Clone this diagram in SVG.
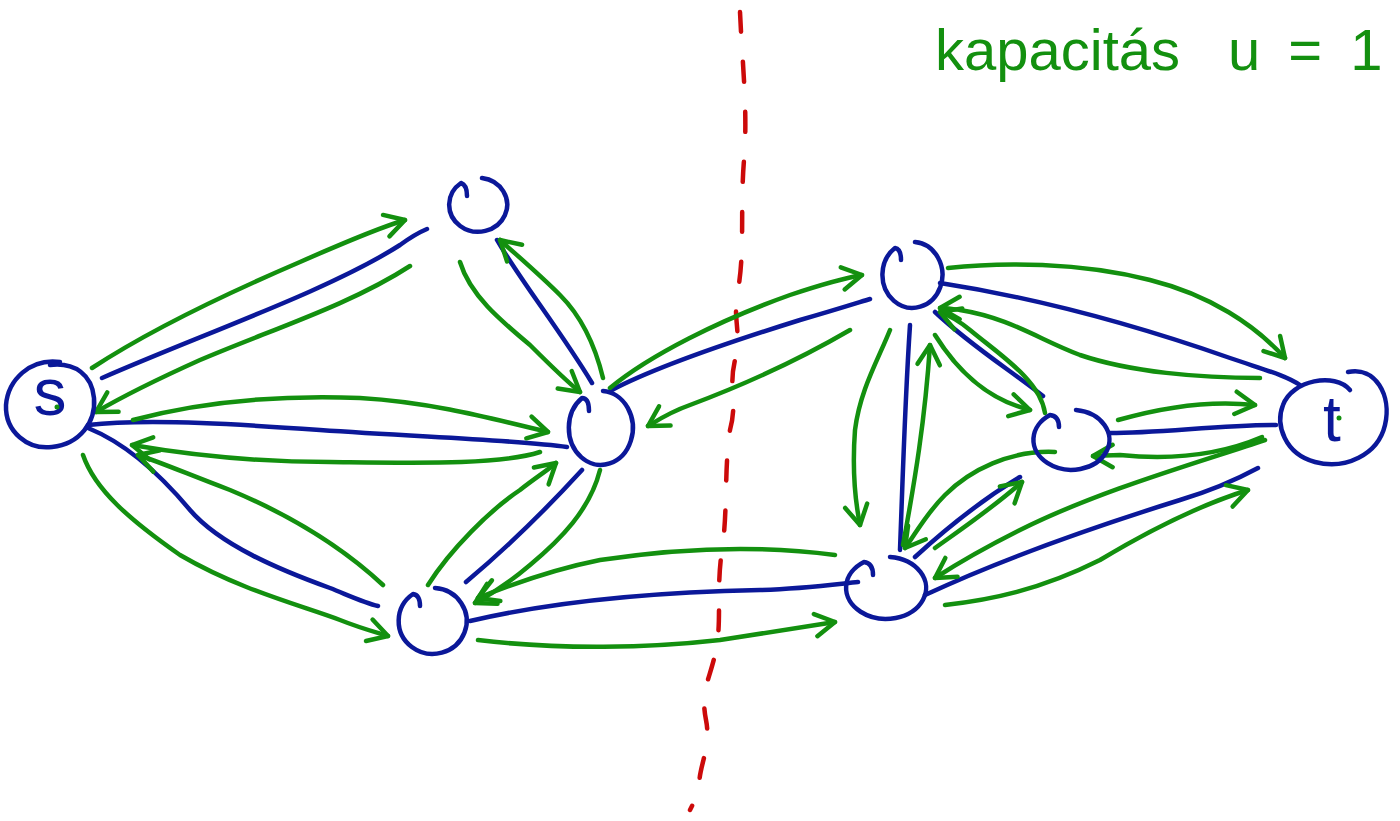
<svg xmlns="http://www.w3.org/2000/svg" width="1400" height="821" viewBox="0 0 1400 821">
<style>
.b{fill:none;stroke:#0b1899;stroke-width:4.5;stroke-linecap:round;stroke-linejoin:round}
.g{fill:none;stroke:#13900f;stroke-width:4.5;stroke-linecap:round;stroke-linejoin:round}
.ga{fill:none;stroke:#13900f;stroke-width:4.5;stroke-linecap:round;stroke-linejoin:round;marker-end:url(#ah)}
.r{fill:none;stroke:#cc0a0a;stroke-width:4.5;stroke-linecap:round;stroke-dasharray:20 30}
.lbl{font-family:"Liberation Sans",Arial,sans-serif;fill:#0b1899}
.ttl{font-family:"Liberation Sans",Arial,sans-serif;fill:#13900f;font-size:58px}
</style>
<defs>
<marker id="ah" viewBox="0 0 20 20" refX="17" refY="10" markerWidth="28" markerHeight="28" markerUnits="userSpaceOnUse" orient="auto">
<path d="M3,2 L17,10 L3,18" fill="none" stroke="#13900f" stroke-width="3.2" stroke-linecap="round" stroke-linejoin="round"/>
</marker>
</defs>
<rect width="1400" height="821" fill="#ffffff"/>

<g id="cut">
<path class="r" d="M740,12 C742,60 748,110 744,160 C740,210 745,250 738,290 C732,320 742,330 735,360 C728,390 738,400 730,430 C724,470 728,510 722,550 C716,590 722,620 716,650 C710,680 700,690 706,720 C712,750 696,770 700,790 L690,810"/>
</g>

<g id="connectors">
<path class="b" d="M102,378 C200,335 330,290 400,245 Q415,234 427,229"/>
<path class="b" d="M88,425 C150,418 250,425 320,430 C420,437 520,440 567,447"/>
<path class="b" d="M88,428 C130,445 165,480 190,510 C220,545 280,570 330,588 C350,596 365,603 378,606"/>
<path class="b" d="M497,240 C520,280 560,330 592,383"/>
<path class="b" d="M582,470 C550,505 510,545 466,582"/>
<path class="b" d="M612,390 C650,370 720,345 800,320 C835,310 860,302 870,299"/>
<path class="b" d="M470,621 C560,600 660,592 760,590 C800,589 830,585 858,582"/>
<path class="b" d="M910,325 C905,400 903,470 900,550"/>
<path class="b" d="M935,312 C970,345 1010,370 1043,396"/>
<path class="b" d="M940,283 C1050,300 1150,330 1230,358 C1265,370 1285,375 1300,385"/>
<path class="b" d="M1110,433 C1160,433 1220,425 1276,425"/>
<path class="b" d="M915,557 C950,525 990,495 1020,477"/>
<path class="b" d="M925,595 C1000,560 1100,525 1180,500 C1220,488 1245,475 1258,468"/>
<path class="ga" d="M92,368 C150,330 230,292 300,262 C350,240 385,226 405,220"/>
<path class="ga" d="M410,266 C350,305 270,330 200,360 C160,378 120,398 96,412"/>
<path class="ga" d="M133,420 C200,402 280,395 360,398 C430,402 490,418 548,432"/>
<path class="ga" d="M540,452 C500,465 420,463 330,462 C250,462 190,455 132,445"/>
<path class="ga" d="M383,585 C340,545 290,515 230,490 C190,475 160,462 138,455"/>
<path class="ga" d="M83,455 C95,490 130,520 180,555 C240,590 300,605 340,620 C360,628 375,632 388,636"/>
<path class="ga" d="M460,262 C470,295 500,320 530,345 C550,365 565,380 580,392"/>
<path class="ga" d="M603,378 C595,345 580,315 560,295 C540,275 520,258 500,240"/>
<path class="ga" d="M428,585 C450,550 490,510 520,490 C535,478 548,470 556,463"/>
<path class="ga" d="M600,470 C590,510 560,540 530,565 C510,582 490,595 475,603"/>
<path class="ga" d="M610,388 C650,355 720,320 790,295 C820,285 845,278 862,275"/>
<path class="ga" d="M850,330 C790,365 730,390 690,405 C670,412 658,420 648,426"/>
<path class="ga" d="M835,555 C760,545 680,548 600,560 C550,570 510,585 478,598"/>
<path class="ga" d="M478,640 C560,650 650,648 720,640 C770,632 810,626 835,622"/>
<path class="ga" d="M890,330 C878,360 860,390 855,430 C852,470 855,500 860,525"/>
<path class="ga" d="M903,545 C915,480 925,420 930,345"/>
<path class="ga" d="M935,335 C960,375 990,400 1030,410"/>
<path class="ga" d="M1045,413 C1040,380 1000,355 970,330 C958,320 948,315 940,312"/>
<path class="ga" d="M948,268 C1000,262 1080,262 1150,280 C1210,295 1255,325 1285,358"/>
<path class="ga" d="M1260,378 C1200,378 1130,372 1080,355 C1040,340 1010,318 960,310 C952,309 946,308 940,308"/>
<path class="ga" d="M1118,420 C1160,408 1210,400 1255,405"/>
<path class="ga" d="M1262,437 C1220,455 1170,460 1120,455 C1110,455 1100,456 1093,456"/>
<path class="ga" d="M1265,440 C1200,462 1100,490 1020,530 C980,550 955,565 935,578"/>
<path class="ga" d="M945,605 C990,600 1040,590 1100,560 C1150,530 1200,505 1248,490"/>
<path class="ga" d="M1055,452 C1010,450 970,470 945,495 C925,515 915,535 905,548"/>
<path class="ga" d="M935,548 C960,530 990,510 1022,482"/>
</g>

<g id="node-s">
<path class="b" d="M60,362 C30,358 8,380 6,405 C5,432 28,450 52,447 C80,444 96,422 94,398 C92,375 75,362 50,365"/>
<text class="lbl" x="50" y="415" font-size="66" text-anchor="middle">s</text>
<circle cx="57" cy="407" r="2.5" fill="#13900f"/>
</g>
<g id="node-top">
<path class="b" d="M482,178 A29,27 0 1 1 461,183 Q467,185 467,196"/>
</g>
<g id="node-a">
<path class="b" d="M603,391 A32,37 0 1 1 582,398 Q589,398 589,411"/>
</g>
<g id="node-b">
<path class="b" d="M435,588 A34,33 0 1 1 413,594 Q420,595 420,606"/>
</g>
<g id="node-c">
<path class="b" d="M915,242 A30,33 0 1 1 895,248 Q901,249 901,260"/>
</g>
<g id="node-d">
<path class="b" d="M1076,410 A38,30 0 1 1 1050,415 Q1059,416 1059,427"/>
</g>
<g id="node-e">
<path class="b" d="M890,557 A40,31 0 1 1 864,562 Q873,563 873,575"/>
</g>
<g id="node-t">
<path class="b" d="M1348,372 C1375,366 1392,395 1385,425 C1378,455 1345,470 1315,462 C1285,454 1275,425 1283,405 C1292,380 1335,372 1350,390"/>
<text class="lbl" x="1332" y="441" font-size="64" text-anchor="middle">t</text>
<circle cx="1339" cy="418" r="2.5" fill="#13900f"/>
</g>

<g id="title">
<text class="ttl" x="935" y="70">kapacitás</text>
<text class="ttl" x="1228" y="70" word-spacing="12" font-size="64">u = 1</text>
</g>
</svg>
